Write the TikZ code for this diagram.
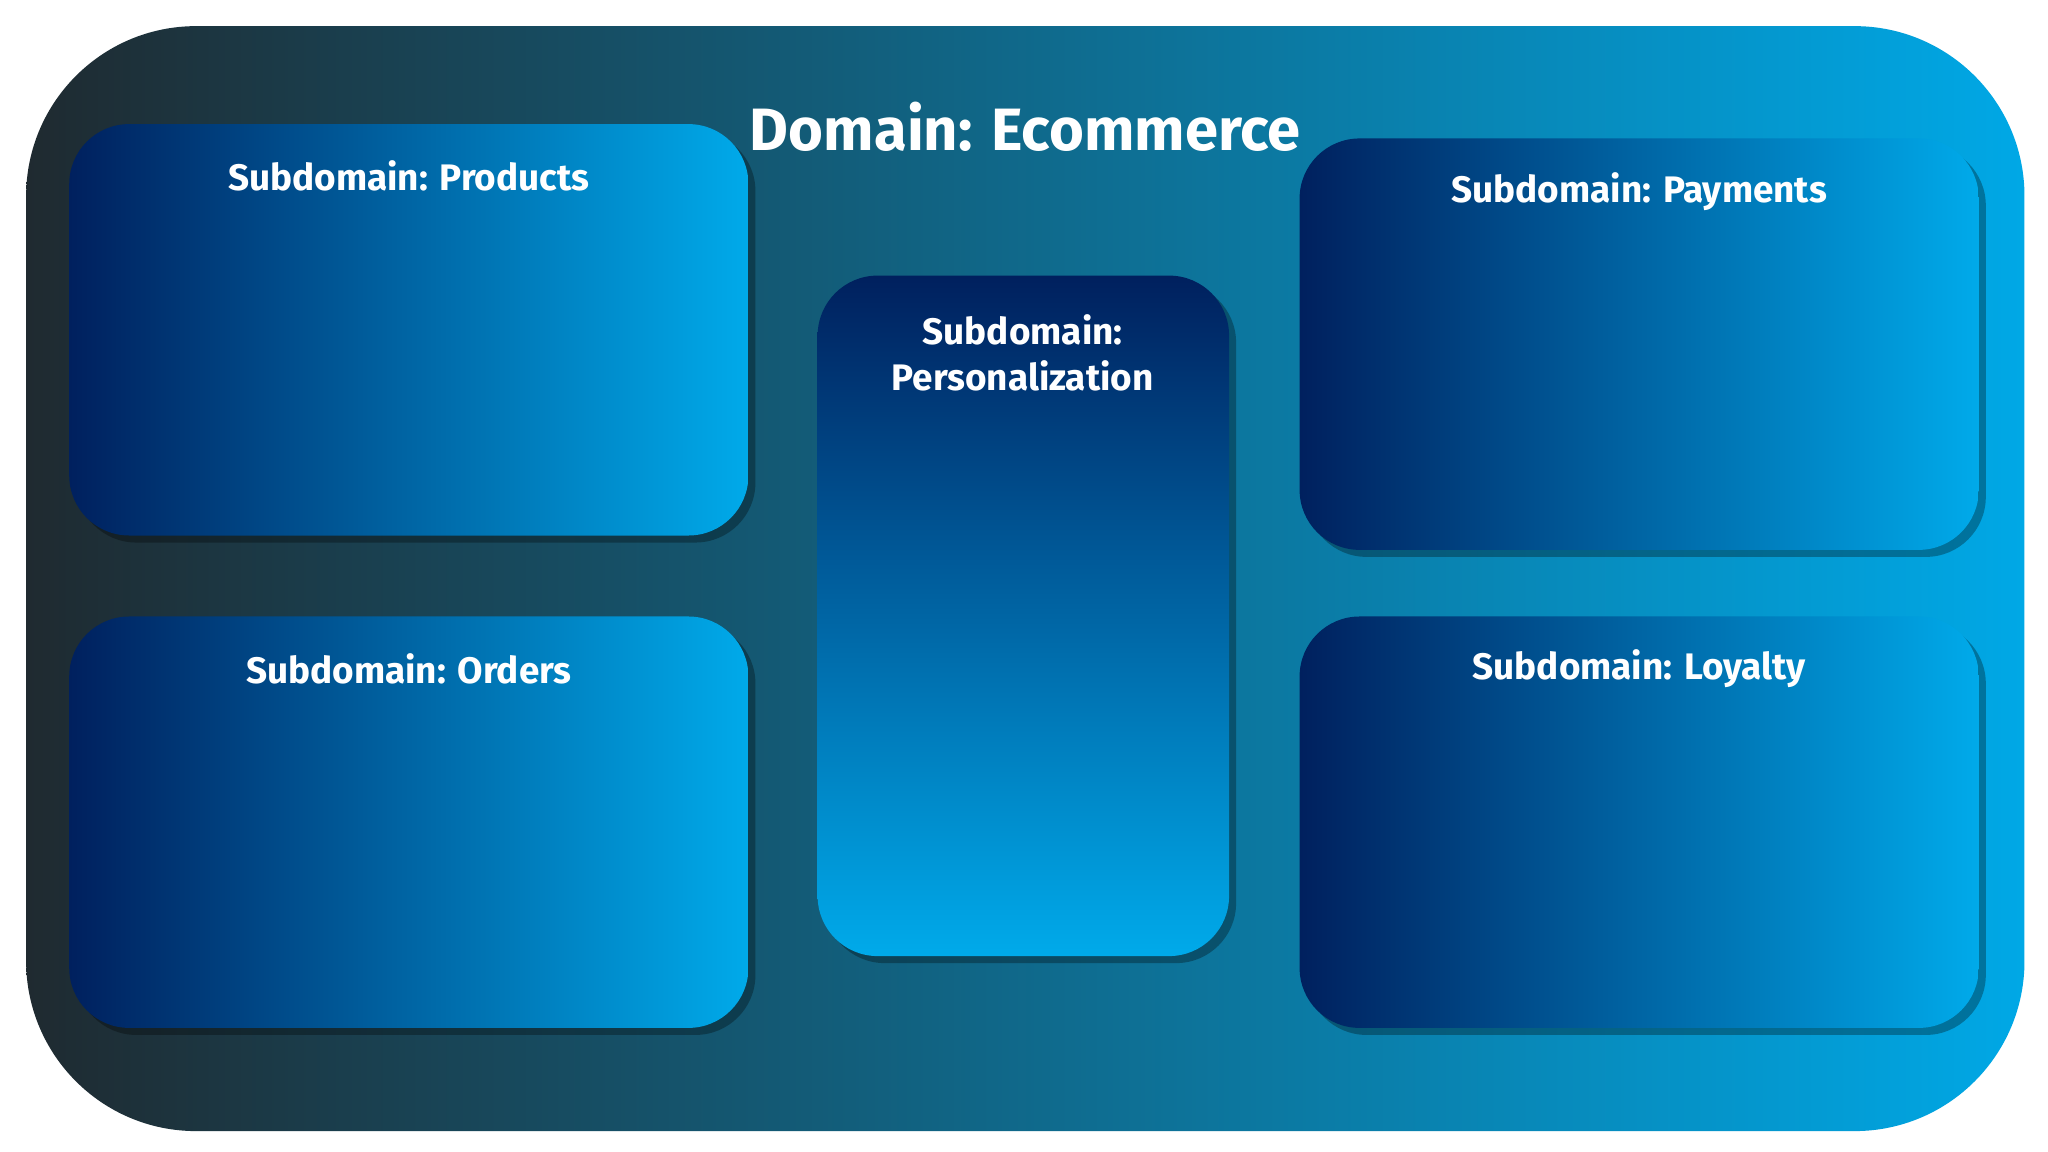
\documentclass[tikz,border=0pt]{standalone}
\usepackage{fontspec}
\setmainfont{Fira Sans}
\usetikzlibrary{shadows}
\definecolor{dk}{HTML}{1F2A30}
\definecolor{lt}{HTML}{00A8E6}
\definecolor{nv}{HTML}{00205E}
\definecolor{bl}{HTML}{00AAEA}
\begin{document}
\begin{tikzpicture}[x=0.01306cm,y=-0.01306cm,
  shd/.style={drop shadow={opacity=0.3,fill=black,shadow xshift=2pt,shadow yshift=-2pt}},
  sub/.style={rounded corners=0.6cm, left color=nv, right color=bl, shd},
  lab/.style={text=white, font=\fontsize{10.5}{13}\selectfont\bfseries, align=center}]
\useasboundingbox (0,0) rectangle (1568,882);
\fill[white] (0,0) rectangle (1568,882);
\shade[rounded corners=1.7cm, left color=dk, right color=lt] (20,20) rectangle (1550,866);
\node[text=white,font=\fontsize{17}{20}\selectfont\bfseries] (title) at (785,97) {Domain: Ecommerce};
\path[sub] (53,95) rectangle (573,410);
\path[sub] (53,472) rectangle (573,787);
\path[sub] (995,106) rectangle (1515,421);
\path[sub] (995,472) rectangle (1515,787);
\path[rounded corners=0.6cm, top color=nv, bottom color=bl, shd] (626,211) rectangle (941,732);
\node[lab] (p) at (313,135) {Subdomain: Products};
\node[lab] (o) at (313,512) {Subdomain: Orders};
\node[lab] (pa) at (1255,147) {Subdomain: Payments};
\node[lab] (l) at (1255,512) {Subdomain: Loyalty};
\node[lab] (pe) at (783,270) {Subdomain:\\Personalization};
\end{tikzpicture}
\end{document}
